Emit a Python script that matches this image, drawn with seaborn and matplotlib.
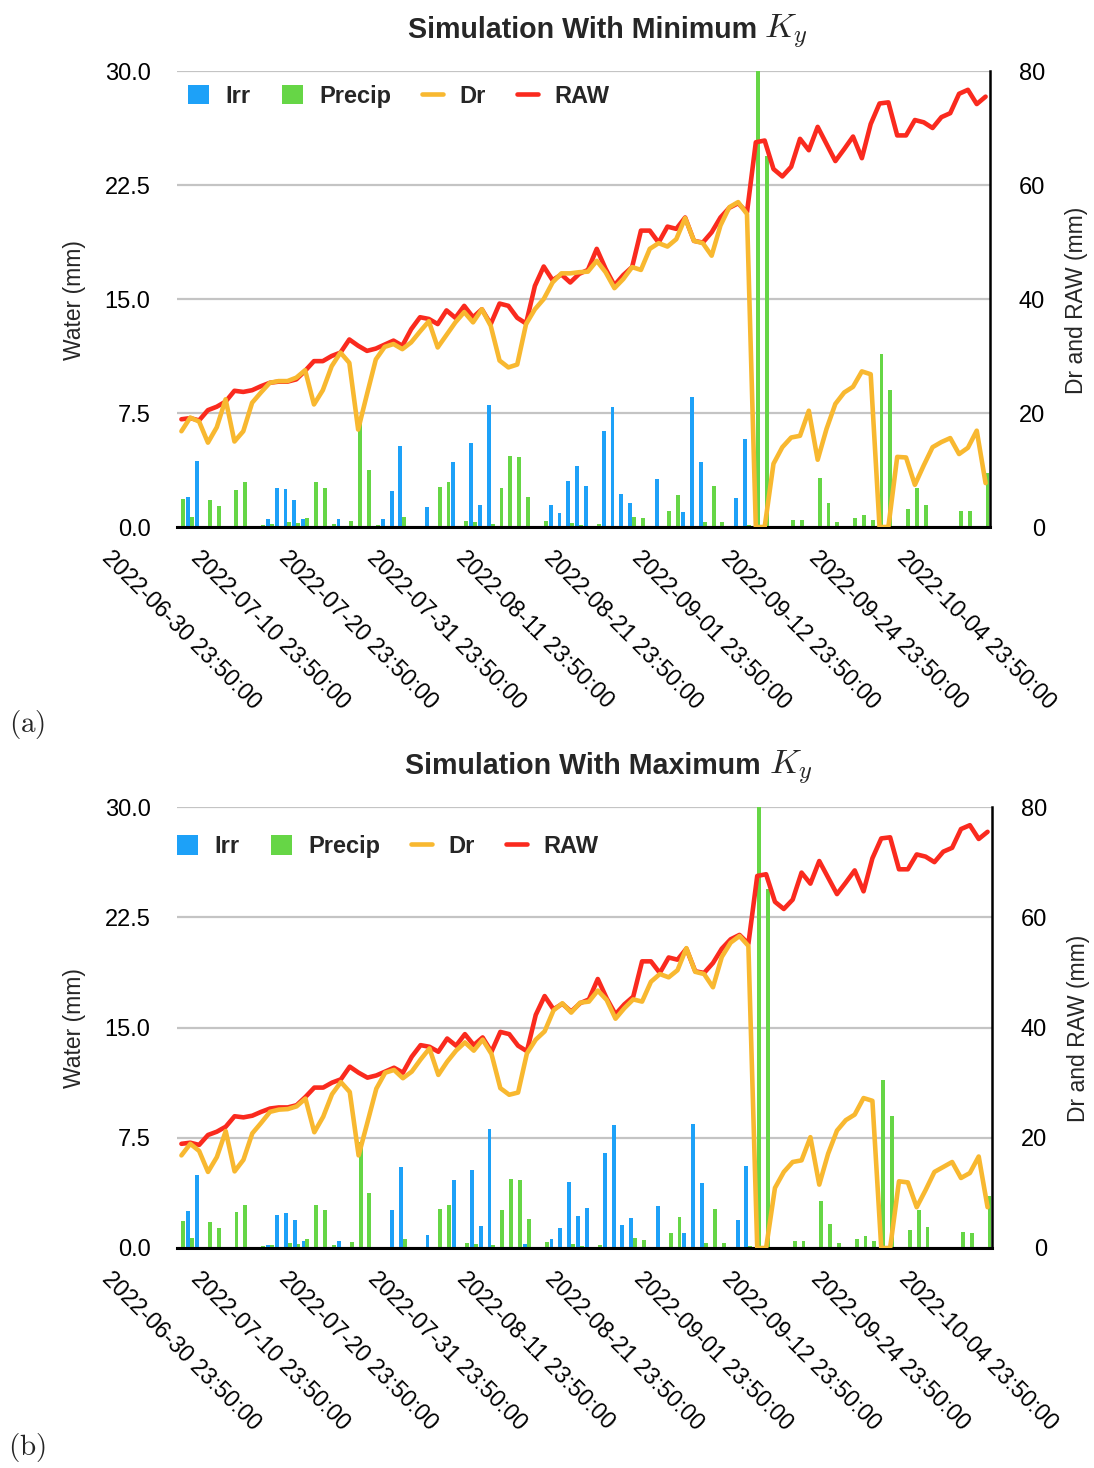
import matplotlib
matplotlib.use("Agg")
import matplotlib.pyplot as plt
import numpy as np
import pandas as pd
import seaborn as sns
from matplotlib.patches import Patch
from matplotlib.lines import Line2D

sns.set_theme(style="white")
plt.rcParams["font.family"] = ["Liberation Sans", "DejaVu Sans"]
plt.rcParams["mathtext.fontset"] = "cm"

# ---------------- data ----------------
days = list(range(92))
tick_idx = list(range(0, 92, 10))
tick_labels = ["2022-06-30 23:50:00", "2022-07-10 23:50:00", "2022-07-20 23:50:00",
               "2022-07-31 23:50:00", "2022-08-11 23:50:00", "2022-08-21 23:50:00",
               "2022-09-01 23:50:00", "2022-09-12 23:50:00", "2022-09-24 23:50:00",
               "2022-10-04 23:50:00"]
left_ticks = [0, 7.5, 15, 22.5, 30]
left_tick_labels = ["0.0", "7.5", "15.0", "22.5", "30.0"]
right_ticks = [0, 20, 40, 60, 80]

precip = [1.84, 0.66, 0, 1.75, 1.38, 0, 2.43, 2.94, 0, 0.13,
          0.2, 0, 0.33, 0.26, 0.6, 2.94, 2.59, 0.2, 0, 0.4,
          7.2, 3.73, 0.1, 0, 0, 0.64, 0, 0, 0, 2.65,
          2.94, 0, 0.37, 0.3, 0, 0.2, 2.57, 4.67, 4.63, 2.0,
          0, 0.42, 0, 0, 0.24, 0.15, 0, 0.2, 0, 0,
          0, 0.68, 0.57, 0, 0, 1.03, 2.13, 0, 0, 0.35,
          2.68, 0.35, 0, 0, 0.15, 30.0, 24.4, 0, 0, 0.46,
          0.46, 0, 3.2, 1.6, 0.35, 0, 0.6, 0.8, 0.48, 11.4,
          9.0, 0, 1.2, 2.57, 1.45, 0, 0, 0, 1.07, 1.03,
          0, 3.57]

irr_min = [0, 2.0, 4.34, 0, 0, 0, 0, 0, 0, 0,
           0.5, 2.54, 2.48, 1.75, 0.5, 0, 0, 0, 0.5, 0,
           0, 0, 0, 0.52, 2.35, 5.35, 0, 0, 1.34, 0,
           0, 4.3, 0, 5.53, 1.47, 8.05, 0, 0, 0, 0,
           0, 0, 1.45, 0.94, 3.03, 4.0, 2.73, 0, 6.34, 7.87,
           2.2, 1.6, 0, 0, 3.14, 0, 0, 0.96, 8.57, 4.25,
           0, 0, 0, 1.89, 5.81, 0, 0, 0, 0, 0,
           0, 0, 0, 0, 0, 0, 0, 0, 0, 0,
           0, 0, 0, 0, 0, 0, 0, 0, 0, 0,
           0, 0]

irr_max = [0, 2.55, 4.98, 0, 0, 0, 0, 0, 0, 0,
           0.23, 2.27, 2.36, 1.91, 0.45, 0, 0, 0, 0.45, 0,
           0, 0, 0, 0, 2.57, 5.52, 0, 0, 0.86, 0,
           0, 4.61, 0, 5.34, 1.48, 8.07, 0, 0, 0, 0.3,
           0, 0, 0.64, 1.39, 4.48, 2.2, 2.73, 0, 6.48, 8.34,
           1.59, 2.02, 0, 0, 2.89, 0, 0, 1.02, 8.41, 4.45,
           0, 0, 0, 1.91, 5.55, 0, 0, 0, 0, 0,
           0, 0, 0, 0, 0, 0, 0, 0, 0, 0,
           0, 0, 0, 0, 0, 0, 0, 0, 0, 0,
           0, 0]

dr_min = [16.8, 19.2, 18.5, 14.8, 17.5, 22.4, 15.0, 16.8, 21.8, 23.6,
          25.3, 25.6, 25.6, 26.2, 27.5, 21.5, 24.0, 28.2, 30.6, 28.8,
          17.1, 23.3, 29.4, 31.6, 32.1, 31.2, 32.4, 34.3, 36.1, 31.5,
          33.7, 35.9, 37.7, 35.9, 38.2, 35.3, 29.2, 28.0, 28.5, 35.6,
          38.2, 40.0, 42.9, 44.5, 44.5, 44.7, 44.8, 46.7, 44.7, 41.9,
          43.5, 45.6, 45.1, 48.8, 49.8, 49.2, 50.5, 54.2, 50.2, 49.8,
          47.6, 52.9, 56.1, 57.0, 54.9, 0, 0, 11.1, 14.0, 15.7,
          16.0, 20.4, 11.8, 17.2, 21.6, 23.6, 24.6, 27.3, 26.8, 0,
          0, 12.3, 12.2, 7.4, 10.8, 14.0, 14.9, 15.6, 12.8, 13.9,
          16.9, 7.7]

dr_max = [16.8, 18.9, 17.6, 13.8, 16.5, 21.2, 13.9, 16.0, 20.8, 22.7,
          24.7, 25.1, 25.2, 25.7, 27.1, 21.0, 23.8, 27.9, 30.1, 28.3,
          16.8, 22.8, 28.9, 31.8, 32.3, 30.8, 32.0, 34.2, 36.2, 31.4,
          33.8, 35.8, 37.3, 35.8, 37.8, 35.2, 29.0, 27.8, 28.2, 35.3,
          37.8, 39.3, 43.1, 44.4, 42.7, 44.5, 44.7, 46.7, 45.0, 41.6,
          43.5, 45.1, 44.7, 48.3, 49.7, 49.1, 50.4, 54.4, 50.1, 49.7,
          47.3, 52.8, 55.4, 56.6, 54.8, 0, 0, 10.9, 13.8, 15.6,
          15.9, 20.1, 11.5, 17.1, 21.3, 23.2, 24.2, 27.2, 26.7, 0,
          0, 12.1, 11.9, 7.4, 10.5, 13.8, 14.7, 15.6, 12.7, 13.6,
          16.6, 7.4]

raw = [18.9, 19.1, 18.7, 20.5, 21.1, 22.0, 23.9, 23.7, 24.0, 24.7,
       25.3, 25.5, 25.5, 25.9, 27.4, 29.1, 29.1, 30.0, 30.6, 32.9,
       31.8, 30.9, 31.3, 32.0, 32.7, 31.8, 34.7, 36.8, 36.5, 35.6,
       38.0, 36.7, 38.8, 36.8, 38.2, 35.6, 39.2, 38.8, 36.7, 35.7,
       42.3, 45.7, 43.3, 44.3, 42.9, 44.4, 45.1, 48.8, 45.3, 42.4,
       44.2, 45.6, 52.0, 52.0, 49.9, 52.7, 52.3, 54.3, 50.2, 49.9,
       51.7, 54.3, 56.0, 56.8, 55.2, 67.5, 67.8, 62.8, 61.5, 63.2,
       68.1, 66.1, 70.2, 67.2, 64.2, 66.3, 68.5, 64.7, 70.7, 74.3,
       74.5, 68.7, 68.7, 71.4, 71.0, 70.0, 71.9, 72.6, 76.0, 76.7,
       74.2, 75.5]

# ---------------- style ----------------
BLUE = "#1DA1F8"
GREEN = "#66D646"
ORANGE = "#F8B830"
RED = "#FA2A1E"
GRID = "#C4C4C4"

W, H = 1094, 1468
fig = plt.figure(figsize=(W / 100, H / 100), dpi=100)


def px(x, y):
    return x / W, 1 - y / H


def panel(left, right, top, bottom, irr, dr, title, title_xy, ky_x, leg_anchor,
          ylab_y, rlab_x, letter, letter_y):
    ax = fig.add_axes([left / W, 1 - bottom / H, (right - left) / W, (bottom - top) / H])
    df = pd.DataFrame({"day": days * 2,
                       "var": ["Irr"] * len(days) + ["Precip"] * len(days),
                       "value": list(irr) + list(precip)})
    sns.barplot(data=df, x="day", y="value", hue="var", hue_order=["Irr", "Precip"],
                palette={"Irr": BLUE, "Precip": GREEN}, width=0.88, saturation=1,
                errorbar=None, legend=False, linewidth=0, ax=ax)
    ax.set_ylim(0, 30)
    ax.set_xlim(-0.5, len(days) - 0.5)
    ax.set_yticks(left_ticks)
    ax.set_yticklabels(left_tick_labels)
    ax.set_axisbelow(True)
    ax.yaxis.grid(True, color=GRID, lw=1.6)
    ax.xaxis.grid(False)
    ax.set_xlabel("")
    ax.set_ylabel("")
    for s in ["left", "top", "right"]:
        ax.spines[s].set_visible(False)
    ax.spines["bottom"].set_color("black")
    ax.spines["bottom"].set_linewidth(2.2)
    ax.tick_params(axis="y", length=0, pad=19, labelsize=17, colors="black")

    ax2 = ax.twinx()
    sns.lineplot(x=days, y=raw, ax=ax2, color=RED, lw=3.3)
    sns.lineplot(x=days, y=dr, ax=ax2, color=ORANGE, lw=3.3)
    ax2.set_ylim(0, 80)
    ax2.set_xlim(-0.5, len(days) - 0.5)
    ax2.set_yticks(right_ticks)
    ax2.set_yticklabels([str(t) for t in right_ticks])
    ax2.tick_params(axis="y", length=0, pad=39.6, labelsize=17, colors="black")
    for lbl in ax2.get_yticklabels():
        lbl.set_horizontalalignment("right")
    ax2.grid(False)
    for s in ["left", "top", "bottom"]:
        ax2.spines[s].set_visible(False)
    ax2.spines["right"].set_color("black")
    ax2.spines["right"].set_linewidth(1.8)
    ax2.set_ylabel("")

    ax.set_xticks(tick_idx)
    ax.set_xticklabels(tick_labels, rotation=-45, ha="center", va="top")
    ax.tick_params(axis="x", length=0, pad=14, labelsize=16.7, colors="black")

    handles = [Patch(fc=BLUE, ec="none", label="Irr"),
               Patch(fc=GREEN, ec="none", label="Precip"),
               Line2D([], [], color=ORANGE, lw=3.3, label="Dr"),
               Line2D([], [], color=RED, lw=3.3, label="RAW")]
    ax2.legend(handles=handles, ncol=4, frameon=False, loc="center left",
               bbox_to_anchor=leg_anchor, borderaxespad=0, borderpad=0,
               handlelength=0.9, handleheight=0.9, handletextpad=0.7,
               columnspacing=1.3, prop={"weight": "bold", "size": 17})

    fig.text(*px(*title_xy), title, fontsize=20.6, fontweight="bold",
             ha="left", va="baseline")
    fig.text(*px(ky_x, title_xy[1]), r"$K_y$", fontsize=25,
             ha="left", va="baseline")
    fig.text(*px(75, ylab_y), "Water (mm)", rotation=90, ha="center",
             va="center", fontsize=16.5)
    fig.text(*px(rlab_x, ylab_y), "Dr and RAW (mm)", rotation=90, ha="center",
             va="center", fontsize=16.5)
    fig.text(*px(27, letter_y), letter, fontsize=21, ha="center", va="center")


panel(177, 990, 71, 527, irr_min, dr_min, "Simulation With Minimum",
      (408, 38), 764, (0.0135, 0.945), 300, 1076, r"$\mathrm{(a)}$", 724)
panel(177, 992, 807, 1248, irr_max, dr_max, "Simulation With Maximum",
      (405, 774), 769, (0.0, 0.91), 1028, 1078, r"$\mathrm{(b)}$", 1448)

fig.savefig("out.png", dpi=100)
